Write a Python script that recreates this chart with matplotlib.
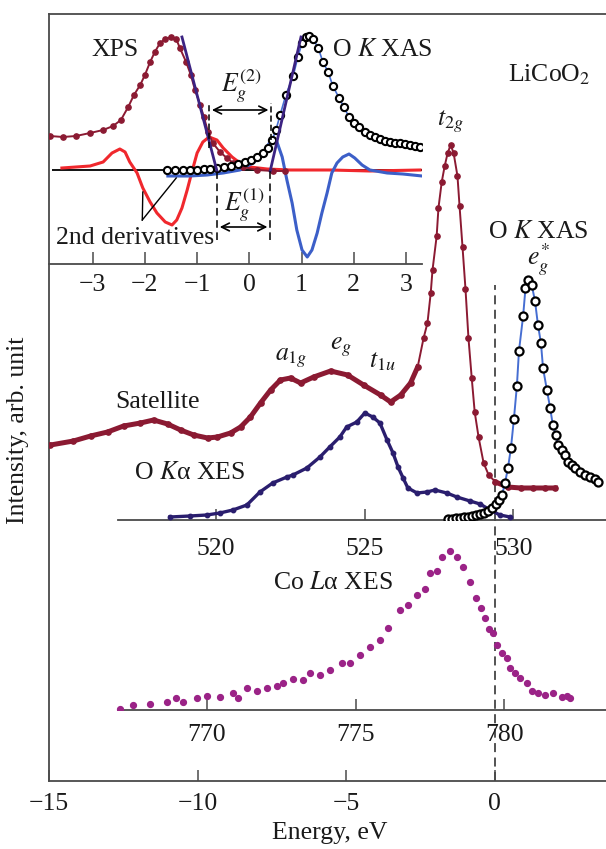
import matplotlib
matplotlib.use('Agg')
import matplotlib.pyplot as plt

plt.rcParams['font.family'] = ['Liberation Serif', 'DejaVu Serif']
plt.rcParams['mathtext.fontset'] = 'stix'
plt.rcParams['axes.unicode_minus'] = True

# ---------------- data ----------------
# Main panel: XPS valence band, energy relative to the gap (eV)
xps_e = [-14.95, -14.18, -13.60, -13.03, -12.49, -11.92, -11.48, -11.01, -10.57, -10.13,
         -9.66, -9.33, -8.89, -8.55, -8.22, -7.88, -7.54, -7.21, -6.87, -6.53,
         -6.09, -5.52, -4.95, -4.41, -3.84, -3.50, -3.16, -2.83, -2.59, -2.39,
         -2.26, -2.15, -2.09, -1.95, -1.89, -1.78, -1.68, -1.58, -1.48, -1.38,
         -1.25, -1.18, -1.08, -0.98, -0.88, -0.77, -0.67, -0.54, -0.37, -0.20,
         0.03, 0.44, 0.88, 1.30, 1.70, 2.05]
xps_i = [336, 340, 345, 349, 355, 358, 361, 357, 351, 346,
         343, 344, 348, 354, 364, 378, 391, 401, 403, 398,
         404, 410, 406, 396, 386, 379, 386, 398, 414, 443,
         458, 488, 511, 545, 573, 599, 615, 628, 636, 628,
         605, 575, 534, 492, 443, 403, 369, 344, 318, 306,
         299, 294, 293, 293, 293, 293]

# O K XAS (absolute photon energy, eV)
xas_e = [527.80, 527.93, 528.07, 528.20, 528.34, 528.47, 528.61, 528.74, 528.88, 529.01,
         529.15, 529.28, 529.41, 529.52, 529.62, 529.72, 529.82, 529.92, 530.02, 530.12,
         530.19, 530.33, 530.41, 530.51, 530.62, 530.73, 530.83, 530.93, 531.00, 531.13,
         531.24, 531.33, 531.43, 531.51, 531.64, 531.74, 531.84, 531.98, 532.08, 532.25,
         532.41, 532.58, 532.74, 532.85]
xas_i = [1, 1, 2, 2, 3, 3, 4, 5, 6, 7,
         9, 12, 16, 20, 25, 37, 52, 72, 101, 134,
         169, 204, 232, 240, 235, 219, 195, 177, 152, 130,
         112, 95, 85, 75, 70, 65, 58, 55, 52, 48,
         45, 43, 41, 38]

# O Ka XES (absolute energy, eV)
xes_e = [518.44, 519.11, 519.68, 520.12, 520.56, 521.03, 521.47, 521.90, 522.38, 522.58,
         523.05, 523.49, 523.82, 524.16, 524.39, 524.73, 525.00, 525.27, 525.51, 525.75,
         525.95, 526.12, 526.29, 526.45, 526.76, 527.09, 527.36, 527.76, 528.10, 528.54,
         528.88, 529.22, 529.55, 529.89]
xes_i = [3, 4, 5, 7, 10, 15, 28, 37, 43, 45,
         52, 63, 73, 83, 93, 98, 107, 103, 97, 80,
         67, 53, 42, 32, 27, 28, 30, 27, 23, 19,
         16, 10, 5, 3]

# Co La XES (absolute energy, eV)
co_e = [767.07, 767.51, 768.08, 768.65, 768.96, 769.19, 769.66, 770.00, 770.44, 770.88,
        771.04, 771.35, 771.68, 772.02, 772.36, 772.56, 772.90, 773.23, 773.47, 773.80,
        774.14, 774.55, 774.81, 775.15, 775.49, 775.82, 776.09, 776.50, 776.77, 777.07,
        777.34, 777.51, 777.74, 777.91, 778.18, 778.42, 778.62, 778.86, 779.06, 779.23,
        779.36, 779.49, 779.63, 779.76, 779.93, 780.10, 780.20, 780.37, 780.54, 780.77,
        780.94, 781.14, 781.38, 781.65, 781.95, 782.12, 782.22]
co_i = [1, 5, 6, 8, 12, 8, 12, 14, 13, 17,
        12, 22, 19, 22, 24, 27, 31, 30, 37, 35,
        40, 47, 47, 55, 63, 70, 82, 100, 105, 115,
        121, 137, 139, 153, 159, 153, 143, 128, 112, 102,
        92, 81, 77, 65, 57, 52, 42, 37, 32, 27,
        19, 17, 15, 17, 13, 14, 12]

# Inset: XPS near the gap
ins_xps_e = [-3.82, -3.57, -3.32, -3.05, -2.80, -2.61, -2.46, -2.32, -2.21, -2.09,
             -2.00, -1.90, -1.81, -1.71, -1.61, -1.50, -1.40, -1.33, -1.21, -1.12,
             -1.04, -0.94, -0.87, -0.79, -0.70, -0.56, -0.43, -0.31, -0.12, 0.15,
             0.45, 0.68]
ins_xps_i = [128, 127, 128, 131, 134, 138, 144, 157, 169, 179,
             189, 202, 212, 221, 225, 227, 225, 216, 202, 189,
             174, 159, 147, 132, 121, 112, 106, 101, 97, 94,
             93, 93]

# Inset: O K XAS near the gap
ins_xas_e = [-1.58, -1.42, -1.27, -1.14, -1.00, -0.87, -0.75, -0.62, -0.49, -0.35,
             -0.22, -0.08, 0.03, 0.15, 0.26, 0.36, 0.44, 0.51, 0.59, 0.70,
             0.84, 0.93, 1.01, 1.09, 1.14, 1.22, 1.32, 1.41, 1.51, 1.60,
             1.72, 1.81, 1.91, 2.01, 2.10, 2.22, 2.31, 2.41, 2.50, 2.60,
             2.70, 2.79, 2.89, 2.98, 3.08, 3.17, 3.27]
ins_xas_i = [94, 94, 94, 94, 94, 95, 95, 96, 97, 98,
             100, 102, 104, 107, 111, 116, 124, 134, 149, 169,
             188, 207, 221, 227, 228, 225, 216, 202, 192, 178,
             166, 157, 147, 141, 137, 132, 129, 127, 125, 123,
             122, 121, 121, 120, 119, 118, 117]

# Inset: second derivatives
d2_xps_e = [-3.59, -3.05, -2.80, -2.63, -2.48, -2.38, -2.29, -2.15, -2.04, -1.90,
            -1.77, -1.61, -1.48, -1.39, -1.29, -1.19, -1.10, -1.00, -0.89, -0.77,
            -0.62, -0.50, -0.33, -0.18, 0.01, 0.34, 0.78, 1.55, 2.31, 3.27]
d2_xps_i = [96, 98, 102, 111, 115, 112, 102, 91, 76, 62,
            51, 42, 39, 44, 56, 74, 92, 111, 122, 127,
            124, 116, 107, 101, 97, 95, 94, 94, 93, 94]
d2_xas_e = [-1.56, -1.14, -0.81, -0.50, -0.18, 0.07, 0.24, 0.36, 0.45, 0.53,
            0.63, 0.72, 0.82, 0.91, 1.01, 1.11, 1.20, 1.30, 1.39, 1.49,
            1.58, 1.68, 1.79, 1.91, 2.02, 2.16, 2.31, 2.64, 2.94, 3.31]
d2_xas_i = [88, 88, 89, 91, 94, 101, 109, 119, 126, 122,
            107, 84, 61, 34, 14, 7, 14, 31, 51, 71,
            91, 101, 107, 110, 106, 99, 94, 91, 90, 88]

# Inset: tangent lines and gap markers
tan_xps_e = [-1.29, -0.62]
tan_xps_i = [227, 93]
tan_xas_e = [0.99, 0.40]
tan_xas_i = [227, 93]
eg1 = (-0.62, 0.40)
eg2 = (-0.77, 0.42)

main_ticks = [-15, -10, -5, 0]
o_ticks = [520, 525, 530]
co_ticks = [770, 775, 780]
ins_ticks = [-3, -2, -1, 0, 1, 2, 3]

# ---------------- styling ----------------
W, H = 606, 849
C_XPS = '#8B1A32'
C_XES = '#2A1E6E'
C_CO = '#9B2387'
C_XASL = '#466ED2'
C_TAN = '#3C2382'
C_D2R = '#F0282D'
C_D2B = '#3C5FC8'
C_SP = '#4a4a4a'
C_TX = '#1a1a1a'
FS = 18.5

fig = plt.figure(figsize=(W / 100, H / 100), dpi=100)


def rect(x0, y0, x1, y1):
    return [x0 / W, 1 - y1 / H, (x1 - x0) / W, (y1 - y0) / H]


def txt(x, y, s, **kw):
    fig.text(x / W, 1 - y / H, s, ha='center', va='center', fontsize=FS, color=C_TX, **kw)


def style_axis(a, ticks, bounds=None, pad=4, length=8):
    for s in ['left', 'right', 'top']:
        a.spines[s].set_visible(False)
    a.spines['bottom'].set_color(C_SP)
    a.spines['bottom'].set_linewidth(1.3)
    if bounds is not None:
        a.spines['bottom'].set_bounds(*bounds)
    a.set_yticks([])
    a.set_xticks(ticks)
    a.tick_params(axis='x', direction='in', length=length, width=1.1, color=C_SP,
                  labelsize=FS, labelcolor=C_TX, pad=pad)
    a.patch.set_alpha(0)


# main axes
ax = fig.add_axes(rect(49, 14, 606, 781))
ax.set_xlim(-15, 3.75)
ax.set_ylim(0, 767)
ax.spines['right'].set_visible(False)
for s in ['left', 'top', 'bottom']:
    ax.spines[s].set_color(C_SP)
    ax.spines[s].set_linewidth(1.3)
ax.set_yticks([])
ax.set_xticks(main_ticks)
ax.tick_params(axis='x', direction='in', length=8, width=1.1, color=C_SP,
               labelsize=FS, labelcolor=C_TX, pad=9)

ax.vlines(0, 0, 496, colors='#444444', linestyles=(0, (5, 3)), lw=1.3, zorder=1)
ax.plot(xps_e, xps_i, '-', color=C_XPS, lw=1.4, marker='o', ms=3.8, zorder=3)
dense_e = [e for e in xps_e if e < -2.55]
dense_i = [i for e, i in zip(xps_e, xps_i) if e < -2.55]
ax.plot(dense_e, dense_i, '-', color=C_XPS, lw=3.6, zorder=3)
tail_e = [e for e in xps_e if e > -0.1]
tail_i = [i for e, i in zip(xps_e, xps_i) if e > -0.1]
ax.plot(tail_e, tail_i, '-', color=C_XPS, lw=3.6, zorder=3)

# O axes (absolute energy)
axO = fig.add_axes(rect(49, 14, 606, 520))
axO.set_xlim(514.37, 533.12)
axO.set_ylim(0, 506)
style_axis(axO, o_ticks, bounds=(516.69, 533.12), pad=13)
axO.plot(xes_e, xes_i, '-', color=C_XES, lw=2.4, marker='o', ms=3.2, zorder=3)
axO.plot(xas_e, xas_i, '-', color=C_XASL, lw=1.4, marker='o', ms=5.8,
         mfc='white', mec='black', mew=1.6, zorder=4)

# Co axes
axC = fig.add_axes(rect(49, 14, 606, 710))
axC.set_xlim(764.68, 783.43)
axC.set_ylim(0, 696)
style_axis(axC, co_ticks, bounds=(767.0, 783.43), pad=10)
axC.plot(co_e, co_i, 'o', color=C_CO, ms=4.2, zorder=3)

# inset
axI = fig.add_axes(rect(49, 14, 422, 264))
axI.set_xlim(-3.837, 3.308)
axI.set_ylim(0, 250)
style_axis(axI, ins_ticks, pad=7, length=9)

axI.hlines(94, -3.78, 3.31, colors='black', lw=1.3, zorder=2)
axI.plot(d2_xps_e, d2_xps_i, '-', color=C_D2R, lw=2.2, zorder=3)
axI.plot(ins_xps_e, ins_xps_i, '-', color=C_XPS, lw=1.4, marker='o', ms=3.8, zorder=4)
axI.plot(d2_xas_e, d2_xas_i, '-', color=C_D2B, lw=2.2, zorder=3)
axI.plot(ins_xas_e, ins_xas_i, '-', color=C_XASL, lw=1.2, marker='o', ms=5.2,
         mfc='white', mec='black', mew=1.5, zorder=5)
axI.plot(tan_xps_e, tan_xps_i, '-', color=C_TAN, lw=2.0, zorder=6)
axI.plot(tan_xas_e, tan_xas_i, '-', color=C_TAN, lw=2.0, zorder=6)

# gap markers
for e, top in [(eg2[0], 116), (eg2[1], 124)]:
    axI.vlines(e, top, 161, colors='black', linestyles=(0, (4, 2)), lw=1.1, zorder=7)
axI.annotate('', xy=(eg2[0], 154), xytext=(eg2[1], 154),
             arrowprops=dict(arrowstyle='<->', color='black', lw=1.2, mutation_scale=14))
for e in eg1:
    axI.vlines(e, 24, 93, colors='black', linestyles=(0, (5, 3)), lw=1.1, zorder=7)
axI.annotate('', xy=(eg1[0], 37), xytext=(eg1[1], 37),
             arrowprops=dict(arrowstyle='<->', color='black', lw=1.2, mutation_scale=14))
# leader lines for "2nd derivatives"
axI.plot([-2.05, -2.04], [44, 72], '-', color='black', lw=1.0, zorder=7)
axI.plot([-2.05, -1.40], [44, 86], '-', color='black', lw=1.0, zorder=7)

# texts
txt(115, 50, 'XPS')
txt(382, 50, r'O $K$ XAS')
txt(549, 75, r'LiCoO$_2$')
txt(241, 86, r'$E_g^{(2)}$')
txt(244, 205, r'$E_g^{(1)}$')
txt(135, 238, '2nd derivatives')
txt(450, 122, r'$t_{2g}$')
txt(538, 232, r'O $K$ XAS')
txt(538, 260, r'$e_g^{*}$')
txt(291, 358, r'$a_{1g}$')
txt(341, 347, r'$e_g$')
txt(382, 362, r'$t_{1u}$')
txt(157, 402, 'Satellite')
txt(190, 473, r'O $K$α XES')
txt(333, 583, r'Co $L$α XES')
txt(330, 833, 'Energy, eV')
txt(18, 430, 'Intensity, arb. unit', rotation=90)

fig.savefig('out.png', dpi=100)
